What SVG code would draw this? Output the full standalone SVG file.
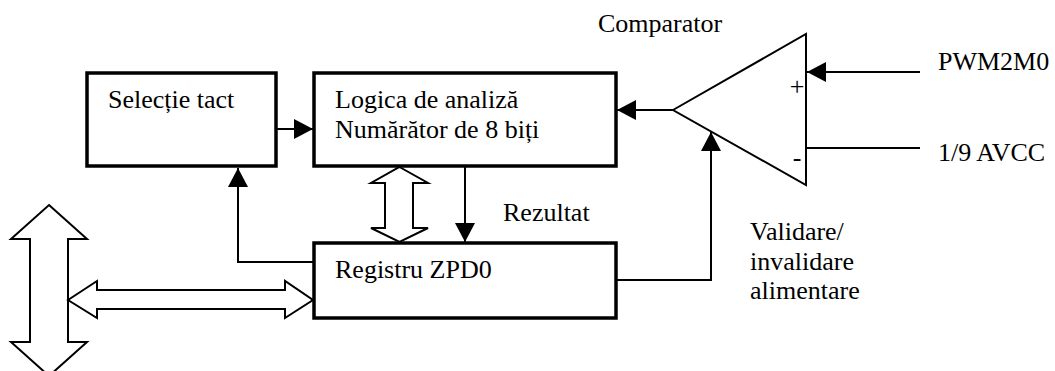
<svg xmlns="http://www.w3.org/2000/svg" width="1055" height="371" viewBox="0 0 1055 371">
<style>
.box{fill:#fff;stroke:#000;stroke-width:3.5}
.ln{fill:none;stroke:#000;stroke-width:2}
.hol{fill:#fff;stroke:#000;stroke-width:2;stroke-linejoin:miter}
</style>
<defs>
<marker id="ah" markerUnits="userSpaceOnUse" markerWidth="19" markerHeight="20" viewBox="0 0 19 20" refX="19" refY="10" orient="auto">
<path d="M0,0 L19,10 L0,20 z" fill="#000"/>
</marker>
</defs>
<rect width="1055" height="371" fill="#fff"/>
<g id="connectors">
<line class="ln" x1="277" y1="129" x2="313" y2="129" marker-end="url(#ah)"/>
<line class="ln" x1="673" y1="110" x2="617" y2="110" marker-end="url(#ah)"/>
<line class="ln" x1="920" y1="72" x2="807" y2="72" marker-end="url(#ah)"/>
<line class="ln" x1="920" y1="148" x2="806" y2="148"/>
<polyline class="ln" points="617,280 711,280 711,132" marker-end="url(#ah)"/>
<line class="ln" x1="465" y1="167" x2="465" y2="242" marker-end="url(#ah)"/>
<polyline class="ln" points="314,262 238,262 238,168" marker-end="url(#ah)"/>
<polygon class="hol" points="399.5,167 428,183 413,183 413,228 428,228 399.5,242 371,228 385,228 385,183 371,183"/>
<polygon class="hol" points="49,205 87,239 68,239 68,342 87,342 49,376 11,342 30,342 30,239 11,239"/>
<polygon class="hol" points="68,300 97,281 97,290 285,290 285,281 313,300 285,318 285,309 97,309 97,318"/>
</g>
<g id="selectie">
<rect class="box" x="87" y="73" width="189" height="93"/>
<text x="108" y="108" font-family="Liberation Serif" font-size="26">Selecție tact</text>
</g>
<g id="logica">
<rect class="box" x="314" y="73" width="302" height="93"/>
<text x="335" y="108" font-family="Liberation Serif" font-size="26">Logica de analiză</text>
<text x="335" y="138" font-family="Liberation Serif" font-size="26">Numărător de 8 biți</text>
</g>
<g id="registru">
<rect class="box" x="314" y="243" width="302" height="75"/>
<text x="335" y="278" font-family="Liberation Serif" font-size="26">Registru ZPD0</text>
</g>
<g id="comparator">
<polygon points="673,110 806,34 806,185" fill="#fff" stroke="#000" stroke-width="2"/>
<text x="598" y="32" font-family="Liberation Serif" font-size="26">Comparator</text>
<text x="797" y="95" text-anchor="middle" font-family="Liberation Serif" font-size="26">+</text>
<text x="797" y="166" text-anchor="middle" font-family="Liberation Serif" font-size="26">-</text>
</g>
<g id="labels">
<text x="938" y="70" font-family="Liberation Serif" font-size="26">PWM2M0</text>
<text x="938" y="161" font-family="Liberation Serif" font-size="26">1/9 AVCC</text>
<text x="503" y="221" font-family="Liberation Serif" font-size="26">Rezultat</text>
<text x="750" y="240" font-family="Liberation Serif" font-size="26">Validare/</text>
<text x="750" y="270" font-family="Liberation Serif" font-size="26">invalidare</text>
<text x="750" y="299" font-family="Liberation Serif" font-size="26">alimentare</text>
</g>
</svg>
